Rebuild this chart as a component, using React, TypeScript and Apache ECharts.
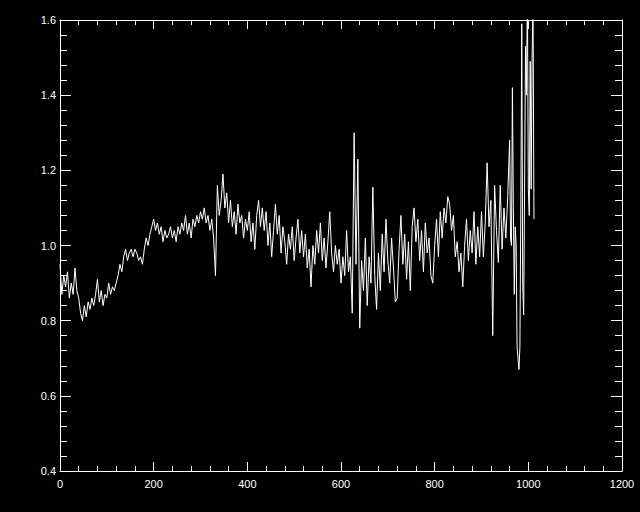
import React, { useEffect, useRef } from "react";
import * as echarts from "echarts";

const xValues = [
  0, 4, 8, 12, 16, 20, 24, 28, 32, 36,
  40, 44, 48, 52, 56, 60, 64, 68, 72, 76,
  80, 84, 88, 92, 96, 100, 104, 108, 112, 116,
  120, 124, 128, 132, 136, 140, 144, 148, 152, 156,
  160, 164, 168, 172, 176, 180, 184, 188, 192, 196,
  200, 204, 208, 212, 216, 220, 224, 228, 232, 236,
  240, 244, 248, 252, 256, 260, 264, 268, 272, 276,
  280, 284, 288, 292, 296, 300, 304, 308, 312, 316,
  320, 324, 328, 332, 336, 340, 344, 348, 352, 356,
  360, 364, 368, 372, 376, 380, 384, 388, 392, 396,
  400, 404, 408, 412, 416, 420, 424, 428, 432, 436,
  440, 444, 448, 452, 456, 460, 464, 468, 472, 476,
  480, 484, 488, 492, 496, 500, 504, 508, 512, 516,
  520, 524, 528, 532, 536, 540, 544, 548, 552, 556,
  560, 564, 568, 572, 576, 580, 584, 588, 592, 596,
  600, 604, 608, 612, 616, 620, 624, 628, 632, 636,
  640, 644, 648, 652, 656, 660, 664, 668, 672, 676,
  680, 684, 688, 692, 696, 700, 704, 708, 712, 716,
  720, 724, 728, 732, 736, 740, 744, 748, 752, 756,
  760, 764, 768, 772, 776, 780, 784, 788, 792, 796,
  800, 804, 808, 812, 816, 820, 824, 828, 832, 836,
  840, 844, 848, 852, 856, 860, 864, 868, 872, 876,
  880, 884, 888, 892, 896, 900, 904, 908, 912, 916,
  920, 924, 928, 932, 936, 940, 944, 948, 952, 956,
  960, 962, 964, 966, 968, 970, 972, 974, 976, 978,
  980, 982, 984, 986, 988, 990, 992, 994, 996, 998,
  1000, 1002, 1004, 1006, 1008, 1010, 1012,
];

const yValues = [
  0.95, 0.87, 0.92, 0.89, 0.93, 0.86, 0.90, 0.87, 0.94, 0.88,
  0.86, 0.82, 0.80, 0.84, 0.81, 0.85, 0.83, 0.86, 0.84, 0.87,
  0.91, 0.85, 0.88, 0.84, 0.87, 0.86, 0.90, 0.87, 0.89, 0.88,
  0.90, 0.92, 0.95, 0.93, 0.97, 0.99, 0.96, 0.98, 0.99, 0.97,
  0.99, 0.98, 0.96, 0.97, 0.95, 0.99, 1.02, 1.00, 1.03, 1.05,
  1.07, 1.04, 1.06, 1.03, 1.05, 1.01, 1.04, 1.02, 1.03, 1.05,
  1.02, 1.04, 1.01, 1.05, 1.03, 1.06, 1.04, 1.08, 1.03, 1.06,
  1.02, 1.07, 1.05, 1.08, 1.06, 1.09, 1.07, 1.10, 1.06, 1.08,
  1.04, 1.07, 1.02, 0.92, 1.16, 1.08, 1.12, 1.19, 1.10, 1.14,
  1.06, 1.12, 1.05, 1.09, 1.03, 1.11, 1.06, 1.08, 1.02, 1.07,
  1.04, 1.09, 1.01, 1.06, 0.99, 1.08, 1.12, 1.05, 1.10, 1.04,
  1.09, 1.00, 1.06, 0.97, 1.04, 1.11, 1.03, 1.08, 0.98, 1.05,
  1.01, 0.95, 1.03, 0.99, 1.05, 0.96, 1.02, 1.07, 0.98, 1.04,
  0.97, 1.03, 0.94, 0.99, 0.89, 1.00, 0.95, 1.04, 0.98, 1.06,
  0.96, 1.02, 0.94, 1.01, 1.09, 0.98, 0.93, 1.00, 0.95, 0.99,
  0.90, 0.97, 0.92, 1.04, 0.93, 0.97, 0.82, 1.30, 0.95, 1.23,
  0.78, 0.96, 0.88, 1.02, 0.84, 0.97, 0.90, 1.155, 0.92, 0.83,
  0.98, 0.88, 1.03, 0.93, 1.07, 0.96, 0.90, 1.02, 0.94, 0.85,
  0.86, 0.99, 1.08, 0.95, 1.03, 0.91, 1.01, 0.88, 1.05, 1.10,
  1.01, 1.07, 0.96, 1.04, 0.93, 1.06, 0.98, 1.02, 0.92, 0.90,
  1.00, 1.07, 0.97, 1.09, 1.02, 1.10, 1.06, 1.13, 1.11, 1.04,
  1.08, 0.97, 1.01, 0.93, 0.98, 0.89, 1.00, 1.07, 0.96, 1.04,
  0.98, 1.09, 0.95, 1.05, 0.97, 1.09, 0.97, 1.06, 1.22, 1.05,
  1.12, 0.76, 1.16, 1.04, 0.955, 1.16, 0.99, 1.10, 1.02, 1.13,
  1.28, 1.02, 1.00, 1.42, 1.10, 0.87, 1.05, 1.00, 0.73, 0.70,
  0.67, 0.73, 1.10, 1.59, 0.90, 0.815, 1.15, 1.53, 1.40, 1.68,
  1.15, 1.08, 1.49, 1.15, 1.50, 1.65, 1.07,
];

const FONT = "'Liberation Sans', Arial, sans-serif";
const WHITE = "#ffffff";

function axisCommon(majorLen: number, minorLen: number) {
  return {
    axisLine: { show: true, onZero: false, lineStyle: { color: WHITE, width: 1 } },
    axisTick: { show: true, inside: true, length: majorLen, lineStyle: { color: WHITE, width: 1 } },
    minorTick: { show: true, splitNumber: 5, length: minorLen, lineStyle: { color: WHITE, width: 1 } },
    splitLine: { show: false },
    minorSplitLine: { show: false },
  };
}

export default function App() {
  const ref = useRef<HTMLDivElement>(null);
  useEffect(() => {
    if (!ref.current) return;
    document.body.style.margin = "0";
    document.body.style.background = "#000";
    const chart = echarts.init(ref.current, undefined, { renderer: "svg" });
    const data = xValues.map((x, i) => [x, yValues[i]]);
    chart.setOption({
      animation: false,
      backgroundColor: "#000000",
      grid: { left: 60, right: 18, top: 20, bottom: 41, containLabel: false },
      xAxis: [
        {
          type: "value",
          position: "bottom",
          min: 0,
          max: 1200,
          interval: 200,
          ...axisCommon(9, 5),
          axisLabel: {
            show: true,
            color: WHITE,
            fontSize: 11,
            fontFamily: FONT,
            margin: 7,
            formatter: (v: number) => String(v),
          },
        },
        {
          type: "value",
          position: "top",
          min: 0,
          max: 1200,
          interval: 200,
          ...axisCommon(9, 5),
          axisLabel: { show: false },
        },
      ],
      yAxis: [
        {
          type: "value",
          position: "left",
          min: 0.4,
          max: 1.6,
          interval: 0.2,
          ...axisCommon(11, 7),
          axisLabel: {
            show: true,
            color: WHITE,
            fontSize: 11,
            fontFamily: FONT,
            margin: 4,
            formatter: (v: number) => v.toFixed(1),
          },
        },
        {
          type: "value",
          position: "right",
          min: 0.4,
          max: 1.6,
          interval: 0.2,
          ...axisCommon(11, 7),
          axisLabel: { show: false },
        },
      ],
      series: [
        {
          type: "line",
          data,
          xAxisIndex: 0,
          yAxisIndex: 0,
          showSymbol: false,
          symbol: "none",
          clip: true,
          lineStyle: { color: WHITE, width: 1 },
        },
      ],
    });
    return () => chart.dispose();
  }, []);
  return (
    <div
      ref={ref}
      style={{ position: "absolute", left: 0, top: 0, width: 640, height: 512 }}
    />
  );
}
